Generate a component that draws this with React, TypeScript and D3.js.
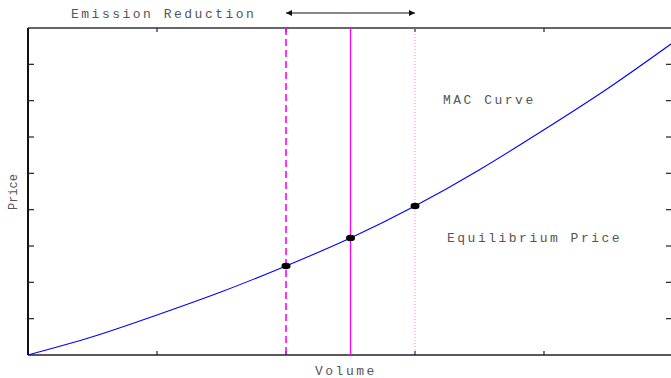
import React from "react";
import * as d3 from "d3";

const curveX = [0, 0.5, 1, 1.5, 2, 2.5, 3, 3.5, 4, 4.5, 5];
const curveY = [0, 0.5, 1.1, 1.74, 2.45, 3.22, 4.1, 5.1, 6.2, 7.35, 8.6];
const xTicks = [0, 1, 2, 3, 4, 5];
const yTicks = [0, 1, 2, 3, 4, 5, 6, 7, 8, 9];
const eqX = [2, 2.5, 3];
const eqY = [2.45, 3.22, 4.1];
const labels = ["Emission Reduction", "MAC Curve", "Equilibrium Price", "Volume", "Price"];

const W = 671, H = 378;

export default function App() {
  const x = d3.scaleLinear().domain([0, 5]).range([28, 673]);
  const y = d3.scaleLinear().domain([0, 9]).range([355, 28]);
  const line = d3.line<number>().x((d, i) => x(curveX[i])).y((d) => y(d)).curve(d3.curveNatural);
  const font = "'Liberation Mono', 'DejaVu Sans Mono', monospace";
  const textFill = "#555";
  const top = y(9), bottom = y(0);
  const fs = 13, ls = 2.5;
  return (
    <svg width={W} height={H} style={{ position: "fixed", left: 0, top: 0, background: "#fff" }}>
      <defs>
        <marker id="ah" viewBox="0 0 10 10" refX="10" refY="5" markerWidth="9" markerHeight="6" orient="auto-start-reverse" markerUnits="userSpaceOnUse">
          <path d="M0,0 L10,5 L0,10 z" fill="#111" />
        </marker>
      </defs>
      <line x1={x(0)} x2={x(5)} y1={top} y2={top} stroke="#333" strokeWidth={1.3} />
      <line x1={x(0)} x2={x(5)} y1={bottom} y2={bottom} stroke="#222" strokeWidth={1.6} />
      <line x1={x(0)} x2={x(0)} y1={top} y2={bottom} stroke="#111" strokeWidth={2} />
      <line x1={x(5)} x2={x(5)} y1={top} y2={bottom} stroke="#111" strokeWidth={2} />
      {xTicks.slice(1, -1).map((t) => (
        <g key={"xt" + t}>
          <line x1={x(t)} x2={x(t)} y1={top} y2={top + 4} stroke="#222" strokeWidth={1.2} />
          <line x1={x(t)} x2={x(t)} y1={bottom} y2={bottom - 4} stroke="#222" strokeWidth={1.2} />
        </g>
      ))}
      {yTicks.slice(1, -1).map((t) => (
        <g key={"yt" + t}>
          <line x1={x(0)} x2={x(0) + 6} y1={y(t)} y2={y(t)} stroke="#222" strokeWidth={1.2} />
          <line x1={x(5)} x2={x(5) - 7} y1={y(t)} y2={y(t)} stroke="#222" strokeWidth={1.2} />
        </g>
      ))}
      <line x1={x(eqX[0])} x2={x(eqX[0])} y1={top} y2={bottom} stroke="#ff00ff" strokeWidth={1.6} strokeDasharray="7,4" />
      <line x1={x(eqX[1])} x2={x(eqX[1])} y1={top} y2={bottom} stroke="#ff00ff" strokeWidth={1.3} />
      <line x1={x(eqX[2])} x2={x(eqX[2])} y1={top} y2={bottom} stroke="#ff66ff" strokeWidth={1} strokeDasharray="1,2" opacity={0.8} />
      <path d={line(curveY) || ""} fill="none" stroke="#0000ff" strokeWidth={1.1} />
      {eqX.map((v, i) => (
        <ellipse key={"p" + i} cx={x(v)} cy={y(eqY[i])} rx={4.5} ry={3.3} fill="#000" />
      ))}
      <line x1={x(eqX[0])} x2={x(eqX[2])} y1={13} y2={13} stroke="#111" strokeWidth={1} markerStart="url(#ah)" markerEnd="url(#ah)" />
      <text x={71} y={18} fontFamily={font} fontSize={fs} letterSpacing={ls} fill={textFill}>{labels[0]}</text>
      <text x={443} y={104} fontFamily={font} fontSize={fs} letterSpacing={ls} fill={textFill}>{labels[1]}</text>
      <text x={447} y={242} fontFamily={font} fontSize={fs} letterSpacing={ls} fill={textFill}>{labels[2]}</text>
      <text x={315} y={375} fontFamily={font} fontSize={fs} letterSpacing={ls} fill={textFill}>{labels[3]}</text>
      <text transform={`translate(17,${192}) rotate(-90)`} textAnchor="middle" fontFamily={font} fontSize={12} fill={textFill}>{labels[4]}</text>
    </svg>
  );
}
